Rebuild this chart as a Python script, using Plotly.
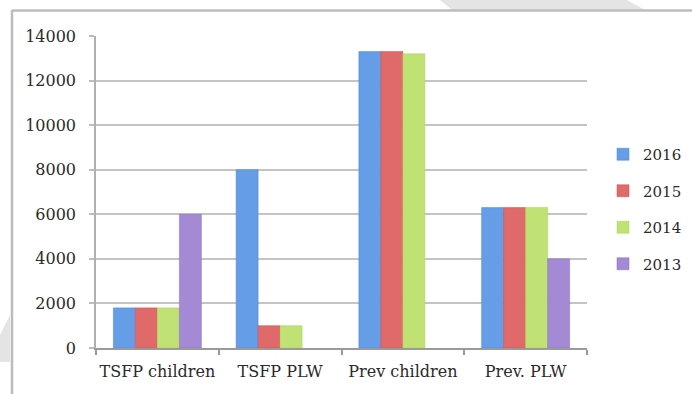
import plotly.graph_objects as go

# Programme categories and yearly totals
categories = ["TSFP children", "TSFP PLW", "Prev children", "Prev. PLW"]
years = ["2016", "2015", "2014", "2013"]
values_2016 = [1800, 8000, 13300, 6300]
values_2015 = [1800, 1000, 13300, 6300]
values_2014 = [1800, 1000, 13200, 6300]
values_2013 = [6000, None, None, 4000]
y_ticks = [0, 2000, 4000, 6000, 8000, 10000, 12000, 14000]

series = [values_2016, values_2015, values_2014, values_2013]
colors = ["#659de7", "#e0696a", "#c0e274", "#a48ad4"]
line_colors = ["#4a84d6", "#d04c4a", "#a8d058", "#8a6cc0"]

FONT = "DejaVu Serif"
W, H = 692, 394

# plot area in pixels, used to place decorations in paper units
L, R, T, B = 96, 587, 36, 348


def px(x):
    return (x - L) / (R - L)


def py(y):
    return (B - y) / (B - T)


fig = go.Figure()
for name, vals, c, lc in zip(years, series, colors, line_colors):
    fig.add_trace(go.Bar(
        x=categories, y=vals, name=name, legendgroup=name,
        marker=dict(color=c, line=dict(color=lc, width=0.5)),
    ))

# faint background shapes
fig.add_shape(type="path", xref="paper", yref="paper",
              path=f"M {px(440)} {py(0)} L {px(627)} {py(0)} L {px(645)} {py(10)} L {px(452)} {py(10)} Z",
              fillcolor="#e4e4e4", line=dict(width=0), layer="below")
fig.add_shape(type="path", xref="paper", yref="paper",
              path=f"M {px(0)} {py(335)} L {px(10)} {py(315)} L {px(10)} {py(362)} L {px(0)} {py(362)} Z",
              fillcolor="#e4e4e4", line=dict(width=0), layer="below")
# frame lines along the top and left
fig.add_shape(type="line", xref="paper", yref="paper", x0=px(12), x1=px(692), y0=py(10.5), y1=py(10.5),
              line=dict(color="#bcbcbc", width=2.5))
fig.add_shape(type="line", xref="paper", yref="paper", x0=px(12), x1=px(12), y0=py(10), y1=py(394),
              line=dict(color="#bcbcbc", width=2.5))

fig.update_layout(
    width=W, height=H,
    margin=dict(l=L, r=W - R, t=T, b=H - B),
    paper_bgcolor="white", plot_bgcolor="white",
    barmode="group", bargap=0.283, bargroupgap=0,
    font=dict(family=FONT, color="#2a2a2a", size=15),
    legend=dict(xref="container", yref="container",
                x=603 / W, y=1 - 138 / H, xanchor="left", yanchor="top",
                font=dict(family=FONT, size=15, color="#2a2a2a"),
                traceorder="grouped", tracegroupgap=14,
                itemwidth=30, bgcolor="rgba(0,0,0,0)"),
    showlegend=True,
)
fig.update_xaxes(
    type="category", range=[-0.5, 3.5], tickson="boundaries", tickangle=0,
    ticks="outside", ticklen=5, tickcolor="#9a9a9a", tickwidth=1.5,
    showline=True, linecolor="#9a9a9a", linewidth=1.5,
    showgrid=False, tickfont=dict(family=FONT, size=16, color="#2a2a2a"),
    ticklabelstandoff=8,
)
fig.update_yaxes(
    range=[0, 14000], tickvals=y_ticks, ticktext=[str(v) for v in y_ticks],
    ticks="outside", ticklen=5, tickcolor="#bdbdbd", tickwidth=2,
    showline=True, linecolor="#b0b0b0", linewidth=1.5,
    showgrid=True, gridcolor="#c4c4c4", gridwidth=2,
    zeroline=False,
    tickfont=dict(family=FONT, size=16, color="#2a2a2a"),
    ticklabelstandoff=10,
)

fig.write_html("out.html")
